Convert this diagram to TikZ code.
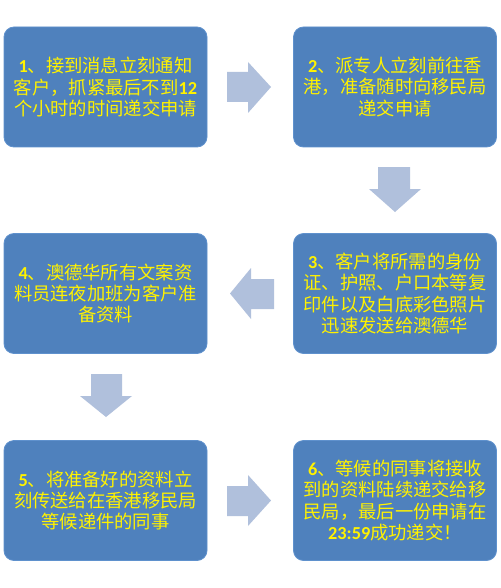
\documentclass[tikz,border=0pt]{standalone}
\usepackage{fontspec}
\newfontfamily\cjk{Noto Sans CJK SC}
\newfontfamily\numfont{Carlito}
\newcommand\nm[1]{{\numfont\bfseries #1}}
\definecolor{boxblue}{RGB}{79,129,189}
\definecolor{boxedge}{RGB}{95,145,205}
\definecolor{arrowblue}{RGB}{176,192,220}
\begin{document}
\begin{tikzpicture}[x=1pt,y=-1pt,
  box/.style={rectangle, rounded corners=10pt, fill=boxblue, draw=boxedge, line width=0.8pt,
    minimum width=203pt, minimum height=120pt, text=yellow, align=center, inner sep=0pt,
    font=\cjk\fontsize{18.3}{21.3}\selectfont},
  blockarrow/.style={fill=arrowblue, draw=none}]
\useasboundingbox (0,0) rectangle (500,588);
\fill[white] (0,0) rectangle (500,588);

\node[box] (b1) at (105.5,87) {\nm{1}、接到消息立刻通知\\客户，抓紧最后不到\nm{12}\\个小时的时间递交申请};
\node[box] (b2) at (395,87) {\nm{2}、派专人立刻前往香\\港，准备随时向移民局\\递交申请};
\node[box] (b3) at (395,293.5) {\nm{3}、客户将所需的身份\\证、护照、户口本等复\\印件以及白底彩色照片\\迅速发送给澳德华};
\node[box] (b4) at (105.5,293.5) {\nm{4}、澳德华所有文案资\\料员连夜加班为客户准\\备资料};
\node[box] (b5) at (105.5,500.5) {\nm{5}、将准备好的资料立\\刻传送给在香港移民局\\等候递件的同事};
\node[box] (b6) at (395,500.5) {\nm{6}、等候的同事将接收\\到的资料陆续递交给移\\民局，最后一份申请在\\\nm{23:59}成功递交！};

% block arrows
\fill[blockarrow] (227,72) -- (248,72) -- (248,62) -- (271,87) -- (248,113) -- (248,102) -- (227,102) -- cycle;
\fill[blockarrow] (378,167) -- (410,167) -- (410,189) -- (421,189) -- (395,212) -- (369,189) -- (378,189) -- cycle;
\fill[blockarrow] (274,279) -- (251,279) -- (251,268) -- (230,293.5) -- (251,319) -- (251,309) -- (274,309) -- cycle;
\fill[blockarrow] (91,374) -- (122,374) -- (122,396) -- (132,396) -- (106,417) -- (80,396) -- (91,396) -- cycle;
\fill[blockarrow] (227,486) -- (248,486) -- (248,475) -- (271,500.5) -- (248,526) -- (248,516) -- (227,516) -- cycle;
\end{tikzpicture}
\end{document}
